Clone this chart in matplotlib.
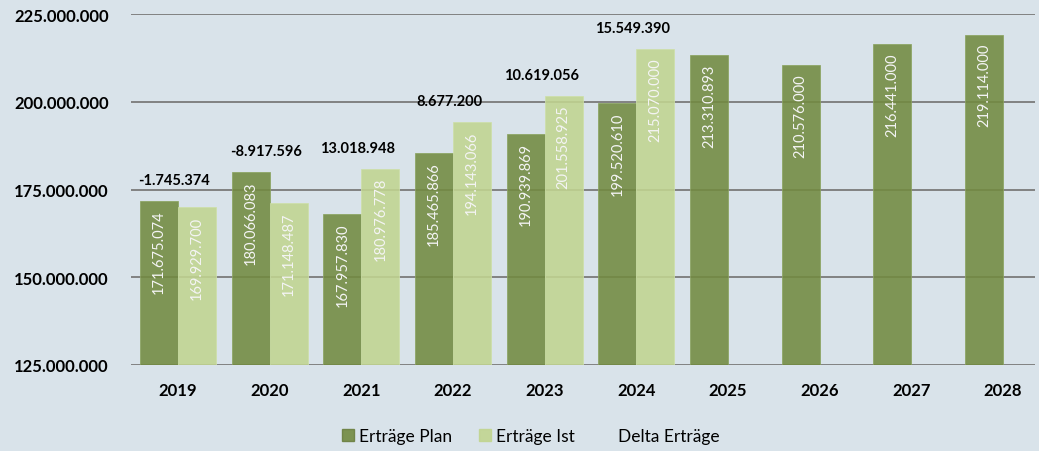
import numpy as np
import matplotlib
matplotlib.use('Agg')
import matplotlib.pyplot as plt
from matplotlib.patches import Patch

# 字体
matplotlib.rcParams['font.family'] = ['Lato', 'DejaVu Sans']

years = ['2019', '2020', '2021', '2022', '2023', '2024', '2025', '2026', '2027', '2028']
ertraege_plan = [171675074, 180066083, 167957830, 185465866, 190939869,
                 199520610, 213310893, 210576000, 216441000, 219114000]
ertraege_ist = [169929700, 171148487, 180976778, 194143066, 201558925, 215070000]
delta_ertraege = [-1745374, -8917596, 13018948, 8677200, 10619056, 15549390]
y_ticks = [125000000, 150000000, 175000000, 200000000, 225000000]

bg = '#d9e3ea'
c_plan = '#728a40'
c_ist = '#c1d590'


def de_fmt(v):
    return f"{v:,}".replace(',', '.')


fig = plt.figure(figsize=(10.39, 4.52), dpi=100, facecolor=bg)
ax = fig.add_axes([131 / 1039, 86 / 452, 904 / 1039, 351 / 452], facecolor=bg)

w = 0.415
x = np.arange(len(years))
x_ist = x[:len(ertraege_ist)]

ax.set_ylim(y_ticks[0], y_ticks[-1])
ax.set_xlim(-0.513, -0.513 + 904 / 91.67)
ax.set_yticks(y_ticks)
ax.set_yticklabels([de_fmt(v) for v in y_ticks], fontweight='bold', fontsize=12)
ax.set_xticks(x)
ax.set_xticklabels(years, fontweight='bold', fontsize=12)
ax.tick_params(axis='y', length=0, pad=16)
ax.tick_params(axis='x', length=0, pad=12)
for s in ['top', 'right', 'left', 'bottom']:
    ax.spines[s].set_visible(False)
ax.yaxis.grid(True, color='#7a7a7a', linewidth=1.3, zorder=0)
ax.set_axisbelow(True)

bars_plan = ax.bar(x - w / 2, ertraege_plan, width=w, color=c_plan, alpha=0.88,
                   edgecolor='#8aa35e', linewidth=0.6, zorder=2)
bars_ist = ax.bar(x_ist + w / 2, ertraege_ist, width=w, color=c_ist, alpha=0.88,
                  edgecolor='#cddfa8', linewidth=0.6, zorder=2)

# Werte in den Balken
for xs, vals in [(x - w / 2, ertraege_plan), (x_ist + w / 2, ertraege_ist)]:
    for xi, v in zip(xs, vals):
        ax.annotate(de_fmt(v), (xi, v), xytext=(0, -6), textcoords='offset points',
                    rotation=90, ha='center', va='top', color='#f4f4f4',
                    fontsize=10.5, zorder=3)

# Delta-Werte über den Gruppen
for i, d in enumerate(delta_ertraege):
    top = max(ertraege_plan[i], ertraege_ist[i])
    ax.annotate(de_fmt(d), (x[i] - 0.04, top), xytext=(0, 10), textcoords='offset points',
                ha='center', va='bottom', fontweight='bold', fontsize=10.5, color='black')

handles = [Patch(facecolor=c_plan, edgecolor='#6b8040', alpha=0.9, label='Erträge Plan'),
           Patch(facecolor=c_ist, edgecolor=c_ist, alpha=0.9, label='Erträge Ist'),
           Patch(facecolor='none', edgecolor='none', label='Delta Erträge')]
fig.legend(handles=handles, loc='center', bbox_to_anchor=(0.511, 0.033), ncol=3,
           frameon=False, fontsize=12.5, handlelength=0.7, handleheight=0.7,
           handletextpad=0.3, columnspacing=1.5)

fig.savefig('out.png', dpi=100, facecolor=bg)
